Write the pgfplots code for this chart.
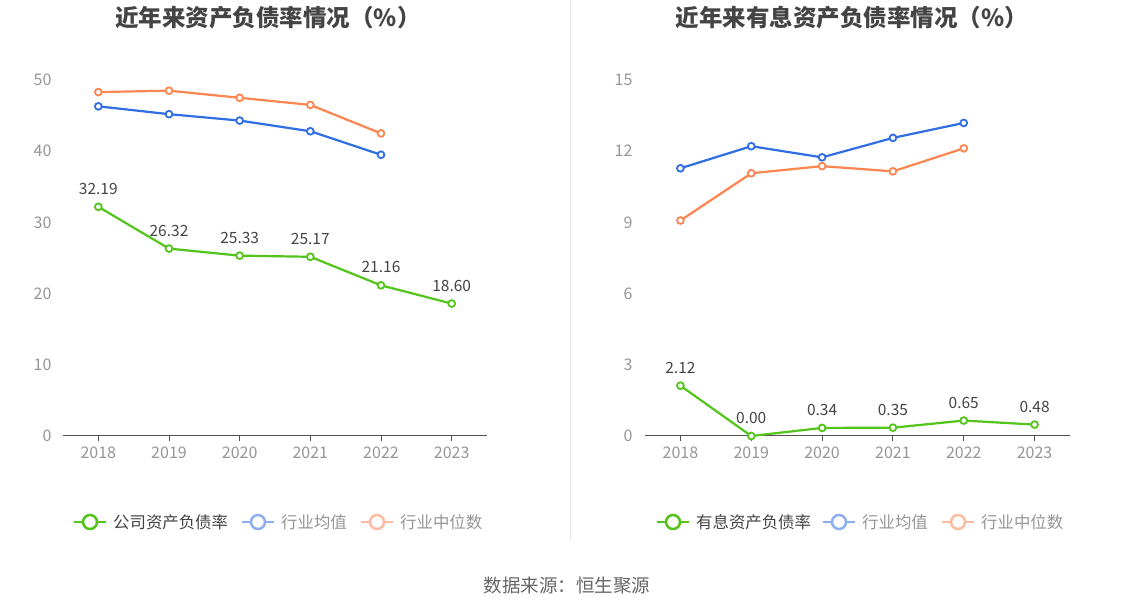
\documentclass[border=0pt]{standalone}
\usepackage{pgfplots}
\pgfplotsset{compat=1.18}
\usepackage{fontspec}
\setmainfont{Noto Sans CJK SC}
\definecolor{cgreen}{RGB}{82,196,26}
\definecolor{cblue}{RGB}{48,110,228}
\definecolor{corange}{RGB}{252,133,80}
\definecolor{cgrid}{RGB}{224,230,241}
\definecolor{ctick}{RGB}{150,150,150}
\definecolor{ctext}{RGB}{68,68,68}
\definecolor{caxis}{RGB}{80,80,80}
\begin{document}
\begin{tikzpicture}[x=1pt,y=1pt]
\path[use as bounding box] (0,0) rectangle (1134,612);
\fill[white] (0,0) rectangle (1134,612);
\draw[color=black!9, line width=1pt] (570,612) -- (570,72);
\pgfplotsset{
  myaxis/.style={
    scale only axis,
    anchor=south west,
    xmin=-0.5, xmax=5.5,
    ymin=0,
    xtick={0,1,2,3,4,5},
    xticklabels={2018,2019,2020,2021,2022,2023},
    axis x line*=bottom,
    axis y line=none,
    ymajorgrids,
    grid style={cgrid, line width=0.8pt},
    x axis line style={caxis, line width=1pt, -},
    xtick style={caxis, line width=1pt},
    major tick length=5pt,
    xtick align=outside,
    tick label style={font=\fontsize{16}{16}\selectfont, text=ctick},
    xticklabel style={yshift=-2pt},
    /pgf/number format/assume math mode=true,
    clip=false,
    every axis plot/.append style={line width=2.2pt, mark=*, mark size=3.4pt,
      mark options={fill=white, line width=1.8pt}},
  },
  ylab/.style={
    nodes near coords,
    nodes near coords style={font=\fontsize{15.5}{15.5}\selectfont, text=ctext, anchor=south, yshift=8pt,
      /pgf/number format/.cd, fixed, fixed zerofill, precision=2, assume math mode=true},
  }
}
% left axis
\begin{axis}[myaxis, at={(63pt,176pt)}, width=424pt, height=356pt, ymax=50,
  ytick={0,10,20,30,40,50}]
\addplot[corange] coordinates {(0,48.3) (1,48.5) (2,47.5) (3,46.5) (4,42.5)};
\addplot[cblue] coordinates {(0,46.3) (1,45.2) (2,44.3) (3,42.8) (4,39.5)};
\addplot[cgreen, ylab] coordinates {(0,32.19) (1,26.32) (2,25.33) (3,25.17) (4,21.16) (5,18.60)};
\end{axis}
% right axis
\begin{axis}[myaxis, at={(645pt,176pt)}, width=425pt, height=356pt, ymax=15,
  ytick={0,3,6,9,12,15}]
\addplot[corange] coordinates {(0,9.08) (1,11.07) (2,11.37) (3,11.15) (4,12.12)};
\addplot[cblue] coordinates {(0,11.28) (1,12.21) (2,11.74) (3,12.56) (4,13.19)};
\addplot[cgreen, ylab] coordinates {(0,2.12) (1,0.00) (2,0.34) (3,0.35) (4,0.65) (5,0.48)};
\end{axis}
% y tick labels (left side, as echarts)
\foreach \v/\p in {0/176,10/247.2,20/318.4,30/389.6,40/460.8,50/532}
  \node[anchor=east, font=\fontsize{16}{16}\selectfont, text=ctick] at (55,\p) {\v};
\foreach \v/\p in {0/176,3/247.2,6/318.4,9/389.6,12/460.8,15/532}
  \node[anchor=east, font=\fontsize{16}{16}\selectfont, text=ctick] at (636,\p) {\v};
% titles
\node[font=\fontsize{23.5}{23.5}\selectfont\bfseries, text=ctext] at (268,594) {近年来资产负债率情况（\%）};
\node[font=\fontsize{23.5}{23.5}\selectfont\bfseries, text=ctext] at (852,594) {近年来有息资产负债率情况（\%）};
% legends
\def\legitem#1#2#3#4{%
  \draw[#2, line width=2.5pt] (#1-16,90) -- (#1+16,90);
  \draw[#2, line width=2.5pt, fill=white] (#1,90) circle (7pt);
  \node[anchor=west, font=\fontsize{16.4}{16.4}\selectfont, text=#3, inner sep=0pt] at (#1+23,90) {#4};}
\legitem{90}{cgreen}{ctext}{公司资产负债率}
\legitem{258}{cblue!55}{ctick}{行业均值}
\legitem{377}{corange!55}{ctick}{行业中位数}
\legitem{673}{cgreen}{ctext}{有息资产负债率}
\legitem{839}{cblue!55}{ctick}{行业均值}
\legitem{958}{corange!55}{ctick}{行业中位数}
% source
\node[font=\fontsize{18.5}{18.5}\selectfont, text=black!60] at (567,26) {数据来源：恒生聚源};
\end{tikzpicture}
\end{document}
